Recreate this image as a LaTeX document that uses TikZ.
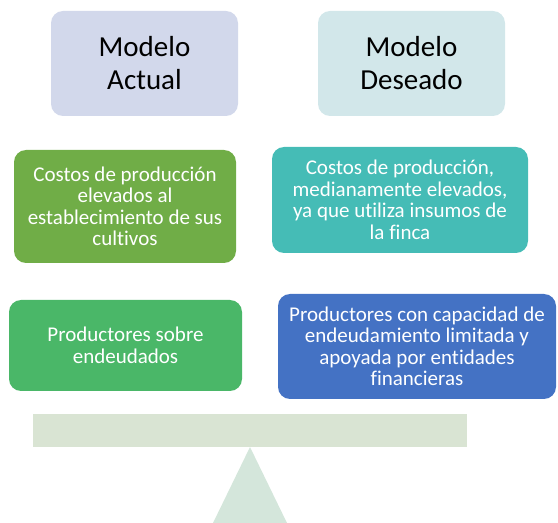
\documentclass[tikz,border=0pt]{standalone}
\usepackage{fontspec}
\setmainfont{Carlito}[Ligatures=NoCommon]
\usetikzlibrary{calc}
\definecolor{actualfill}{RGB}{210,216,235}
\definecolor{deseadofill}{RGB}{210,231,234}
\definecolor{costoA}{RGB}{112,173,71}
\definecolor{costoD}{RGB}{69,188,182}
\definecolor{deudaA}{RGB}{74,183,104}
\definecolor{deudaD}{RGB}{68,114,196}
\definecolor{beamfill}{RGB}{217,228,211}
\definecolor{pivotfill}{RGB}{212,230,219}
\tikzset{
 modelo/.style={rounded corners=12pt,inner sep=0,minimum width=187pt,minimum height=105pt,align=center,font=\fontsize{29}{33}\selectfont},
 item/.style={rounded corners=12pt,inner sep=0,align=center,text=white,font=\fontsize{21}{21.5}\selectfont},
 beam/.style={fill=beamfill,draw=none},
 pivot/.style={fill=pivotfill,draw=none}
}
\begin{document}
\begin{tikzpicture}[x=1pt,y=1pt]
\path[use as bounding box] (0,0) rectangle (558,523);
\node[modelo,fill=actualfill] (actual) at (144.5,459.5) {Modelo\\Actual};
\node[modelo,fill=deseadofill] (deseado) at (411.5,459.5) {Modelo\\Deseado};
\node[item,fill=costoA,minimum width=222pt,minimum height=113pt] (costosA) at (125,316.5)
 {Costos de producción\\elevados al\\establecimiento de sus\\cultivos};
\node[item,fill=costoD,minimum width=256pt,minimum height=106pt] (costosD) at (400,323)
 {Costos de producción,\\medianamente elevados,\\ya que utiliza insumos de\\la finca};
\node[item,fill=deudaA,minimum width=233pt,minimum height=91pt] (deudaA) at (125.5,177.5)
 {Productores sobre\\endeudados};
\node[item,fill=deudaD,minimum width=278pt,minimum height=105pt] (deudaD) at (417,176.5)
 {Productores con capacidad de\\endeudamiento limitada y\\apoyada por entidades\\financieras};
% balanza
\path[pivot] (250,76) -- (287,0) -- (213,0) -- cycle;
\path[beam] (33,76) rectangle (467,109);
\end{tikzpicture}
\end{document}
